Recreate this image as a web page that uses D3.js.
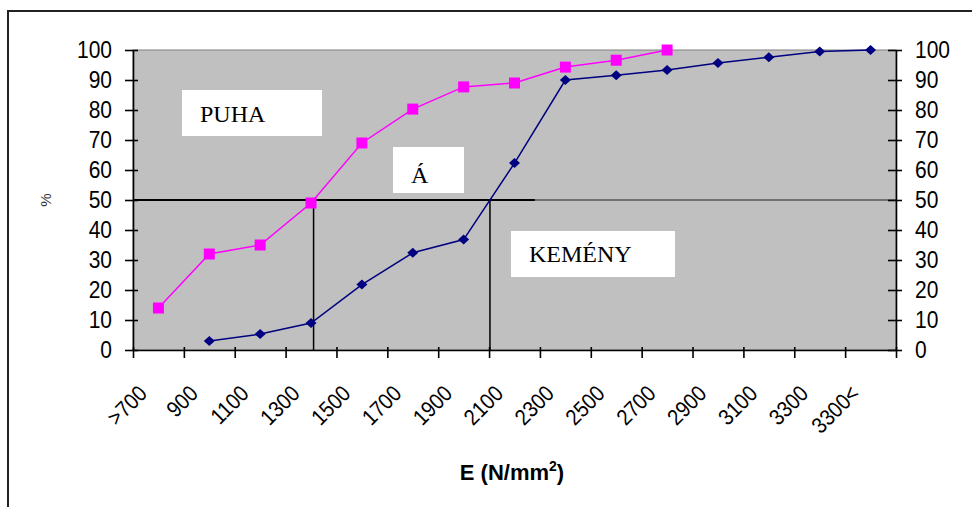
<!DOCTYPE html>
<html>
<head>
<meta charset="utf-8">
<script src="https://cdn.jsdelivr.net/npm/d3@7"></script>
<style>
  html, body { margin: 0; padding: 0; background: #fff; }
  svg { display: block; }
  .tick text { font-family: Arial, "Liberation Sans", sans-serif; font-size: 21px; fill: #000; }
  .box-label { font-family: "Times New Roman", "Liberation Serif", serif; font-size: 24px; fill: #000; }
</style>
</head>
<body>
<svg id="chart" width="972" height="507"></svg>
<script>
// --- Data ---
const categories = [">700", "900", "1100", "1300", "1500", "1700", "1900", "2100",
  "2300", "2500", "2700", "2900", "3100", "3300", "3300<"];
const puhaValues   = [14, 32, 35, 49, 69, 80.3, 87.7, 89, 94.3, 96.6, 100, null, null, null, null];
const kemenyValues = [null, 3, 5.3, 9, 21.8, 32.4, 36.8, 62.3, 90, 91.6, 93.3, 95.7, 97.6, 99.5, 100];
const yTicks = [0, 10, 20, 30, 40, 50, 60, 70, 80, 90, 100];
const boxTexts = ["PUHA", "Á", "KEMÉNY"];

// --- Layout ---
const W = 972, H = 507;
const plot = { left: 133, right: 896, top: 50, bottom: 350 };
const boxes = [
  { x: 182, y: 90, w: 140, h: 46, tx: 200, ty: 122 },
  { x: 393, y: 147, w: 71, h: 46, tx: 411, ty: 183 },
  { x: 511, y: 231, w: 164, h: 46, tx: 529, ty: 262 }
];

const svg = d3.select("#chart");

// outer chart frame (only left and top edges visible)
svg.append("path")
  .attr("d", `M8,${H} V11 H${W}`)
  .attr("fill", "none").attr("stroke", "#222").attr("stroke-width", 2);

const y = d3.scaleLinear().domain([0, 100]).range([plot.bottom, plot.top]);
const xEdge = d3.scaleLinear().domain([0, categories.length]).range([plot.left, plot.right]);
const cx = i => xEdge(i + 0.5);

// plot area
svg.append("rect")
  .attr("x", plot.left).attr("y", plot.top)
  .attr("width", plot.right - plot.left).attr("height", plot.bottom - plot.top)
  .attr("fill", "#c0c0c0").attr("stroke", "#808080").attr("stroke-width", 1);

// 50% reference line + crossings
const crossing = vals => {
  for (let i = 1; i < vals.length; i++) {
    const a = vals[i - 1], b = vals[i];
    if (a != null && b != null && a < 50 && b >= 50) return i - 1 + (50 - a) / (b - a);
  }
  return null;
};
const cPuha = crossing(puhaValues), cKem = crossing(kemenyValues);

const ref = svg.append("g").attr("stroke", "#000");
ref.append("line")
  .attr("x1", plot.left).attr("x2", plot.right)
  .attr("y1", y(50)).attr("y2", y(50)).attr("stroke-width", 1).attr("stroke", "#222");
ref.append("line")
  .attr("x1", plot.left).attr("x2", xEdge(7.9))
  .attr("y1", y(50)).attr("y2", y(50)).attr("stroke-width", 2);
[cPuha, cKem].forEach(c => {
  ref.append("line")
    .attr("x1", cx(c)).attr("x2", cx(c))
    .attr("y1", y(50)).attr("y2", y(0)).attr("stroke-width", 1.5);
});

// text boxes
boxes.forEach((b, i) => {
  svg.append("rect").attr("x", b.x).attr("y", b.y).attr("width", b.w).attr("height", b.h).attr("fill", "#fff");
  svg.append("text").attr("class", "box-label").attr("x", b.tx).attr("y", b.ty).text(boxTexts[i]);
});

// series
const line = d3.line()
  .defined(d => d != null)
  .x((d, i) => cx(i))
  .y(d => y(d));

svg.append("path").datum(puhaValues)
  .attr("d", line).attr("fill", "none").attr("stroke", "#ff00ff").attr("stroke-width", 1.5);
svg.append("path").datum(kemenyValues)
  .attr("d", line).attr("fill", "none").attr("stroke", "#000080").attr("stroke-width", 1.5);

svg.append("g").selectAll("rect")
  .data(puhaValues.map((v, i) => [v, i]).filter(d => d[0] != null))
  .join("rect")
  .attr("x", d => cx(d[1]) - 5.5).attr("y", d => y(d[0]) - 5.5)
  .attr("width", 11).attr("height", 11).attr("fill", "#ff00ff");

svg.append("g").selectAll("path")
  .data(kemenyValues.map((v, i) => [v, i]).filter(d => d[0] != null))
  .join("path")
  .attr("d", d => {
    const px = cx(d[1]), py = y(d[0]);
    return `M${px - 5.5},${py} L${px},${py - 5} L${px + 5.5},${py} L${px},${py + 5} Z`;
  })
  .attr("fill", "#000080");

// axes
const yLeft = svg.append("g")
  .attr("transform", `translate(${plot.left},0)`)
  .call(d3.axisLeft(y).tickValues(yTicks).tickSize(8).tickSizeOuter(0).tickPadding(13));
yLeft.selectAll(".tick line").attr("x1", 5);

const yRight = svg.append("g")
  .attr("transform", `translate(${plot.right},0)`)
  .call(d3.axisRight(y).tickValues(yTicks).tickSize(6).tickSizeOuter(0).tickPadding(13));
yRight.selectAll(".tick line").attr("x1", -8);

const xAxis = svg.append("g")
  .attr("transform", `translate(0,${plot.bottom})`)
  .call(d3.axisBottom(xEdge).tickValues(d3.range(categories.length + 1)).tickSize(8).tickSizeOuter(0).tickFormat(""));
xAxis.selectAll(".tick line").attr("y1", -3);

[yLeft, yRight, xAxis].forEach(g => {
  g.select(".domain").attr("stroke", "#000").attr("stroke-width", 1.6);
  g.selectAll(".tick line").attr("stroke", "#000").attr("stroke-width", 1.6);
});
[yLeft, yRight].forEach(g => g.selectAll(".tick text").attr("transform", "scale(1,1.15)"));

// rotated category labels
svg.append("g").selectAll("text")
  .data(categories)
  .join("text")
  .attr("transform", (d, i) => `translate(${cx(i) - 10},395) rotate(-45) scale(1,1.12)`)
  .attr("text-anchor", "end")
  .attr("font-family", "Arial, 'Liberation Sans', sans-serif")
  .attr("font-size", 20)
  .text(d => d);

// axis titles
const xt = svg.append("text")
  .attr("x", 512).attr("y", 480)
  .attr("text-anchor", "middle")
  .attr("font-family", "Arial, 'Liberation Sans', sans-serif")
  .attr("font-weight", "bold").attr("font-size", 22);
xt.append("tspan").text("E (N/mm");
xt.append("tspan").attr("font-size", 14).attr("dy", -9).text("2");
xt.append("tspan").attr("dy", 9).text(")");

svg.append("text")
  .attr("transform", "translate(51,200) rotate(-90)")
  .attr("text-anchor", "middle")
  .attr("font-family", "Arial, 'Liberation Sans', sans-serif")
  .attr("font-size", 15).attr("fill", "#333")
  .text("%");
</script>
</body>
</html>
